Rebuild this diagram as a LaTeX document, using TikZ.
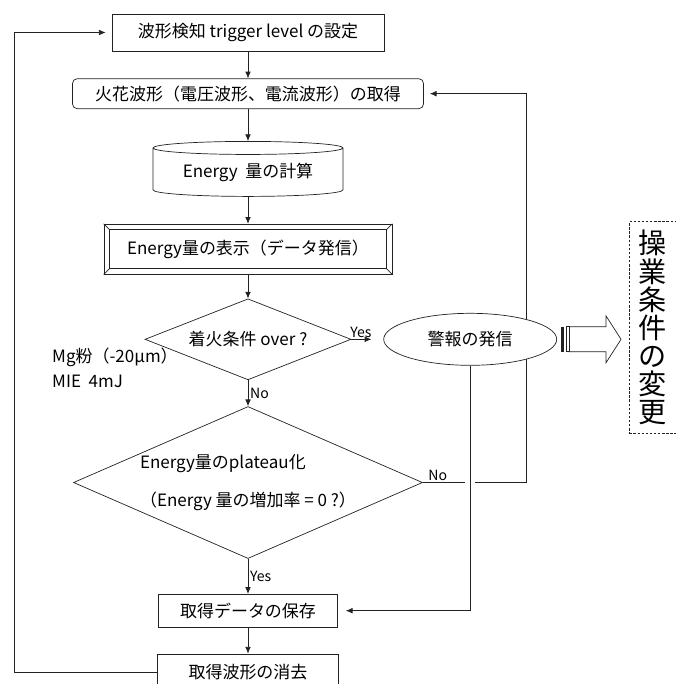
\documentclass[tikz,border=0pt]{standalone}
\usepackage{fontspec}
\setmainfont{Noto Sans CJK JP}
\usetikzlibrary{arrows.meta,positioning,calc,shapes.geometric,backgrounds}
\definecolor{ink}{HTML}{222222}
\tikzset{procbox/.style={draw=ink,line width=0.6pt,align=center,
 font=\fontsize{14.5}{18}\selectfont,inner sep=0pt},
 roundbox/.style={procbox,rounded corners=4pt},
 calcbox/.style={procbox,cylinder,shape border rotate=90,aspect=0.1},
 decide/.style={procbox,diamond},
 alarmnode/.style={procbox,ellipse,fill=white},
 notebox/.style={draw=ink,dashed,dash pattern=on 2pt off 1.5pt,line width=0.5pt,
 align=center,font=\fontsize{24}{24}\selectfont,inner sep=0pt},
 flowarrow/.style={-{Latex[length=2mm,width=1.7mm]},draw=ink,line width=0.6pt},
 flowline/.style={draw=ink,line width=0.6pt},
 branchlabel/.style={font=\fontsize{12}{14}\selectfont,inner sep=1.5pt}}

\begin{document}
\begin{tikzpicture}[node distance=8.1mm]
\useasboundingbox (0,0) rectangle (202.5mm,-205.2mm);
\node[procbox,minimum width=81.6mm,minimum height=11.1mm] (trig) at (74.4mm,-9.75mm) {波形検知 trigger level の設定};
\node[roundbox,minimum width=105.3mm,minimum height=9mm,below=8.1mm of trig] (wave) {火花波形（電圧波形、電流波形）の取得};
\node[calcbox,minimum width=57mm,minimum height=16.5mm,below=9.6mm of wave] (calc) {Energy\ \ 量の計算};
\node[procbox,minimum width=86.4mm,minimum height=15mm,below=8.1mm of calc] (disp) {Energy量の表示（データ発信）};
\node[decide,aspect=2.5,minimum width=61.8mm,minimum height=24.3mm,below=7.2mm of disp] (ign) {着火条件 over ?};
\node[decide,aspect=2.3,minimum width=104.7mm,minimum height=45.6mm,below=7.8mm of ign,
 align=left,font=\fontsize{14.5}{32}\selectfont] (plat) {Energy量のplateau化\\（Energy 量の増加率 = 0 ?）};
\node[procbox,minimum width=53.7mm,minimum height=9.9mm,below=10.5mm of plat] (save) {取得データの保存};
\node[procbox,minimum width=54.3mm,minimum height=11.1mm,below=7.8mm of save] (erase) {取得波形の消去};
\node[alarmnode,minimum width=51.9mm,minimum height=15.6mm,right=9.6mm of ign] (alarm) {警報の発信};
\node[notebox,minimum width=14.1mm,minimum height=63.6mm,right=21.6mm of alarm,yshift=3.5mm] (chg) {操\\業\\条\\件\\の\\変\\更};
\node[font=\fontsize{14.5}{21}\selectfont,align=left,anchor=west,inner sep=0pt] (mg) at (15.6mm,-110.4mm) {Mg粉（-20μm）\\MIE\ \ 4mJ};
\coordinate (lx) at (4.2mm,0);
\coordinate (rx) at ([xshift=-9.3mm]alarm.east);
\coordinate (jx) at (plat.east -| alarm.south);
\draw[flowline] ([shift={(1.8mm,-1.8mm)}]disp.north west) rectangle ([shift={(-1.8mm,1.8mm)}]disp.south east);
\foreach \c/\dx/\dy in {north west/1.8mm/-1.8mm,north east/-1.8mm/-1.8mm,south west/1.8mm/1.8mm,south east/-1.8mm/1.8mm}
 \draw[flowline] (disp.\c) -- ++(\dx,\dy);
\draw[flowarrow] (trig)--(wave);
\draw[flowarrow] (wave)--(calc);
\draw[flowarrow] (calc)--(disp);
\draw[flowarrow] (disp)--(ign);
\draw[flowarrow] (ign)--node[branchlabel,right]{No}(plat);
\draw[flowarrow,shorten >=3.6mm] (ign)--node[branchlabel,above,pos=0.3]{Yes}(alarm);
\draw[flowarrow] (plat)--node[branchlabel,right]{Yes}(save);
\draw[flowarrow] (save)--(erase);
\draw[flowarrow,shorten >=1.8mm] (erase.west)--(erase.west -| lx)|-(trig.west);
\draw[flowline] (plat.east)--node[branchlabel,above,pos=0.35]{No}([xshift=-1.5mm]jx);
\begin{scope}[on background layer]
\draw[flowarrow,shorten >=1.8mm] ([xshift=1.5mm]jx)--(jx -| rx)|-(wave.east);
\end{scope}
\draw[flowarrow,shorten >=2.4mm] (alarm.south)|-(save.east);
\begin{scope}[shift={(alarm.east)},flowline]
\fill[ink] (1.2mm,-3.75mm) rectangle (2.1mm,3.75mm);
\draw (2.7mm,-3.75mm) rectangle (3.6mm,3.75mm);
\draw (3.6mm,3.75mm)--(14.7mm,3.75mm)--(14.7mm,7mm)--(19.2mm,0)--(14.7mm,-7mm)--(14.7mm,-3.75mm)--(3.6mm,-3.75mm);
\end{scope}
\end{tikzpicture}
\end{document}
